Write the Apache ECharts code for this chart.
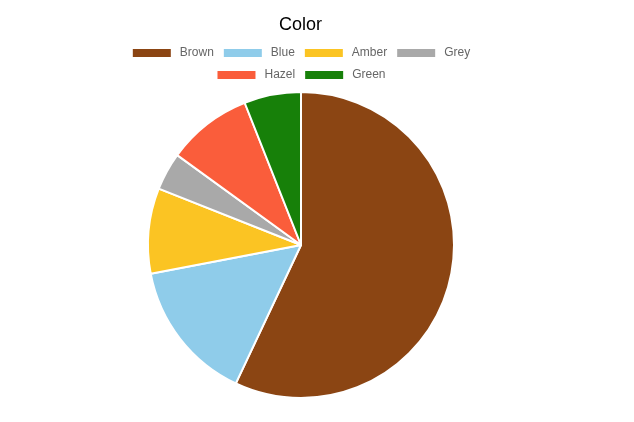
<!DOCTYPE html>
<html>
<head>
<meta charset="utf-8">
<script src="https://cdn.jsdelivr.net/npm/echarts@6/dist/echarts.min.js"></script>
<style>
  html, body { margin: 0; padding: 0; background: #fff; }
  #chart { width: 601px; height: 422px; }
</style>
</head>
<body>
<div id="chart"></div>
<script>
// eye colours, percent
const labels = ['Brown', 'Blue', 'Amber', 'Grey', 'Hazel', 'Green']
const values = [57, 15, 9, 4, 9, 6]
const colors = ['#8B4513', '#8FCCEA', '#FBC423', '#A9A9A9', '#FA5D3B', '#178009']

const myChart = echarts.init(document.getElementById('chart'))

const legendBase = {
  left: 'center',
  orient: 'horizontal',
  icon: 'rect',
  itemWidth: 40,
  itemHeight: 10,
  itemGap: 8,
  textStyle: { color: '#666', fontSize: 12, fontFamily: 'Liberation Sans, Arial, sans-serif', padding: [0, 0, 0, 3] },
  selectedMode: false
}

const option = {
  animation: false,
  title: {
    text: 'Color',
    left: 'center',
    top: 11,
    textStyle: { color: '#000', fontSize: 18, fontWeight: 'normal', fontFamily: 'Liberation Sans, Arial, sans-serif' }
  },
  legend: [
    { ...legendBase, top: 42, data: labels.slice(0, 4) },
    { ...legendBase, top: 64, data: labels.slice(4) }
  ],
  series: [
    {
      type: 'pie',
      center: [301, 245],
      radius: 153,
      startAngle: 90,
      clockwise: true,
      label: { show: false },
      labelLine: { show: false },
      itemStyle: { borderColor: '#fff', borderWidth: 2 },
      emphasis: { disabled: true },
      data: labels.map((name, i) => ({ name, value: values[i], itemStyle: { color: colors[i] } }))
    }
  ]
}

myChart.setOption(option)
</script>
</body>
</html>
